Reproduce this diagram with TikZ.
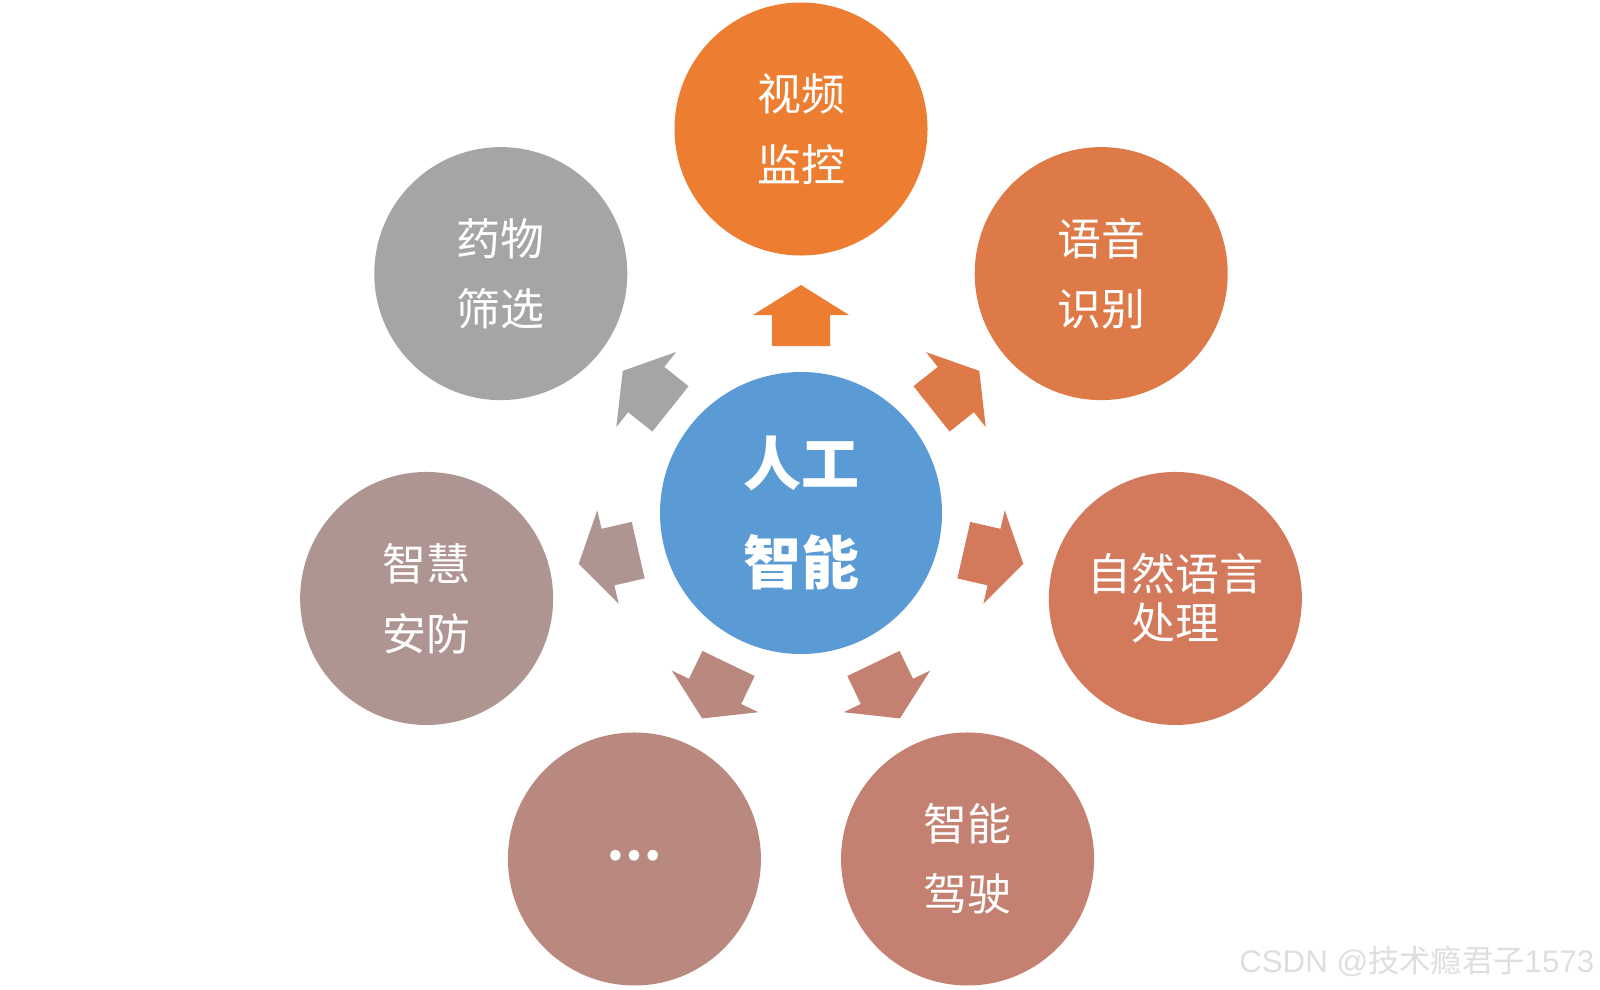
\documentclass[tikz,border=0pt]{standalone}
\usepackage{fontspec}
\setmainfont{Noto Sans CJK SC}
\newfontfamily\wmfont{Liberation Sans}
\usetikzlibrary{calc}

\definecolor{c1}{RGB}{237,125,49}
\definecolor{c2}{RGB}{222,122,72}
\definecolor{c3}{RGB}{211,122,92}
\definecolor{c4}{RGB}{196,128,112}
\definecolor{c5}{RGB}{185,137,128}
\definecolor{c6}{RGB}{174,149,146}
\definecolor{c7}{RGB}{165,165,165}
\definecolor{hubblue}{RGB}{91,155,213}

\begin{document}
\begin{tikzpicture}[
    hub/.style={circle, fill=hubblue, minimum size=2.82cm, inner sep=0pt, align=center, text=white, font=\fontsize{16.5}{28}\selectfont\bfseries},
    topic/.style={circle, minimum size=2.53cm, inner sep=0pt, align=center, text=white, font=\fontsize{12.5}{20}\selectfont}
]
\useasboundingbox (0,0) rectangle (16,9.89);

\node[hub] (ai) at (8.01,4.76) {人工\\智能};

\node[topic, fill=c1] (video) at ($(ai)+(90:3.84)$)     {视频\\监控};
\node[topic, fill=c2] (speech) at ($(ai)+(38.57:3.84)$) {语音\\识别};
\node[topic, fill=c3, font=\fontsize{12.5}{14}\selectfont] (nlp) at ($(ai)+(-12.86:3.84)$) {自然语言\\处理};
\node[topic, fill=c4] (drive) at ($(ai)+(-64.29:3.84)$) {智能\\驾驶};
\node[topic, fill=c5, font=\fontsize{14}{16}\selectfont\bfseries] (more) at ($(ai)+(-115.71:3.84)$) {\raisebox{0.3ex}{…}};
\node[topic, fill=c6] (secure) at ($(ai)+(-167.14:3.84)$) {智慧\\安防};
\node[topic, fill=c7] (drug) at ($(ai)+(141.43:3.84)$)  {药物\\筛选};

% block arrows from the hub to each topic
\foreach \a/\c in {90/c1, 38.57/c2, -12.86/c3, -64.29/c4, -115.71/c5, -167.14/c6, 141.43/c7}
  \fill[\c, shift={(ai.center)}, rotate=\a]
    (1.67,-0.29) -- (1.98,-0.29) -- (1.98,-0.48) -- (2.28,0)
    -- (1.98,0.48) -- (1.98,0.29) -- (1.67,0.29) -- cycle;

\node[anchor=east, inner sep=0pt, text=black!13, font=\fontsize{8.9}{10}\selectfont] (mark) at (15.95,0.28) {{\wmfont CSDN @}技术瘾君子{\wmfont 1573}};
\end{tikzpicture}
\end{document}
